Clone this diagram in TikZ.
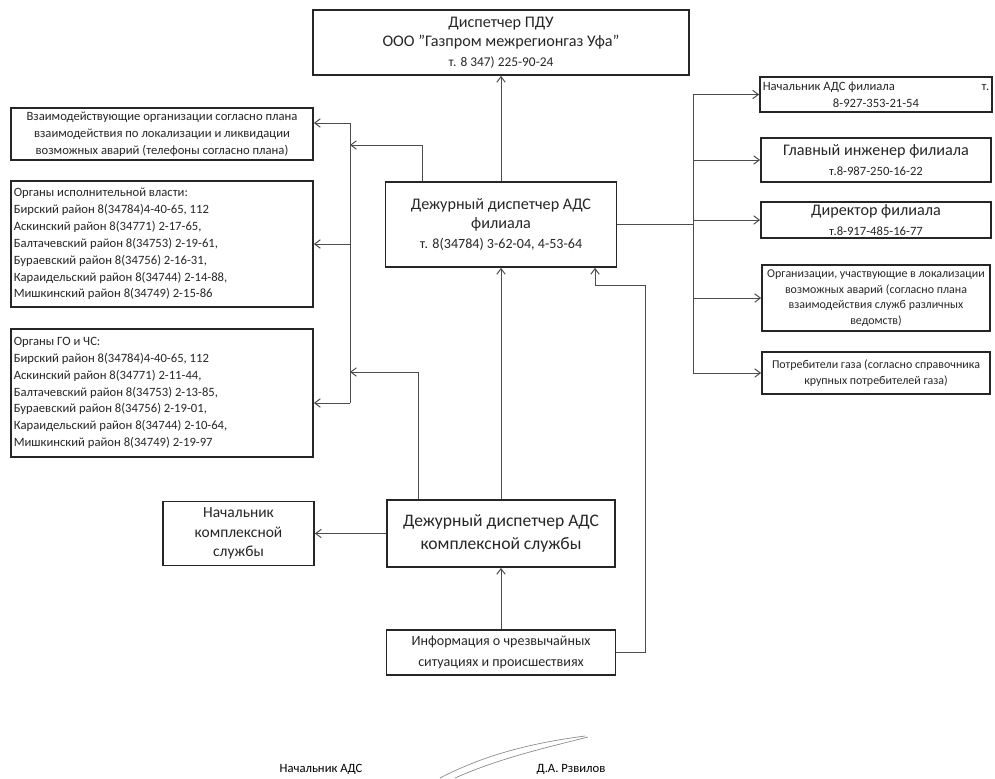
\documentclass[tikz,border=0pt]{standalone}
\usepackage{fontspec}
\setmainfont{Carlito}
\usetikzlibrary{arrows.meta}
\begin{document}
\begin{tikzpicture}[x=0.025cm, y=-0.025cm,
    unit/.style ={rectangle, draw=black!85, line width=1.2pt, align=flush center, inner sep=2pt, text=black!85},
    wire/.style ={draw=black!70, line width=0.7pt},
    link/.style ={wire, -{Straight Barb[length=4pt,width=6pt]}},
    small/.style ={font=\fontsize{8.5}{11}\selectfont},
    mid/.style ={font=\fontsize{9}{12}\selectfont},
    big/.style ={font=\fontsize{11.5}{14}\selectfont}]
   \useasboundingbox (0,0) rectangle (995,778);

   \node[unit, big, minimum width=9.4cm, minimum height=1.625cm] (A) at (501,42.5)
      {Диспетчер ПДУ\\ООО "Газпром межрегионгаз Уфа"\\{\fontsize{9.5}{12}\selectfont т. 8 347) 225-90-24}};
   \node[unit, mid, minimum width=7.55cm, minimum height=1.3cm] (B) at (162,134)
      {Взаимодействующие организации согласно плана\\взаимодействия по локализации и ликвидации\\возможных аварий (телефоны согласно плана)};
   \node[unit, mid, text width=7.41cm, minimum height=3.15cm, align=flush left] (C) at (162,244)
      {Органы исполнительной власти:\\Бирский район 8(34784)4-40-65, 112\\Аскинский район 8(34771) 2-17-65,\\Балтачевский район 8(34753) 2-19-61,\\Бураевский район 8(34756) 2-16-31,\\Караидельский район 8(34744) 2-14-88,\\Мишкинский район 8(34749) 2-15-86};
   \node[unit, mid, text width=7.41cm, minimum height=3.2cm, align=flush left] (D) at (162,393)
      {Органы ГО и ЧС:\\Бирский район 8(34784)4-40-65, 112\\Аскинский район 8(34771) 2-11-44,\\Балтачевский район 8(34753) 2-13-85,\\Бураевский район 8(34756) 2-19-01,\\Караидельский район 8(34744) 2-10-64,\\Мишкинский район 8(34749) 2-19-97};
   \node[unit, big, minimum width=5.775cm, minimum height=2.125cm] (E) at (501,224.5)
      {Дежурный диспетчер АДС\\филиала\\{\fontsize{10}{14}\selectfont т. 8(34784) 3-62-04, 4-53-64}};
   \node[unit, font=\fontsize{11}{14}\selectfont, minimum width=3.775cm, minimum height=1.6cm] (F) at (238.5,533.5)
      {Начальник\\комплексной\\службы};
   \node[unit, font=\fontsize{12.5}{17}\selectfont, minimum width=5.7cm, minimum height=1.675cm] (G) at (501,533.5)
      {Дежурный диспетчер АДС\\комплексной службы};
   \node[unit, font=\fontsize{10}{14.5}\selectfont, minimum width=5.725cm, minimum height=1.125cm] (H) at (501,652.5)
      {Информация о чрезвычайных\\ситуациях и происшествиях};

   \node[unit, mid, text width=5.66cm, minimum height=0.875cm] (I) at (876,94.5)
      {Начальник АДС филиала\hspace{0pt plus 1filll}т.\\8-927-353-21-54};
   \node[unit, big, minimum width=5.75cm, minimum height=1.1cm] (J) at (876,160)
      {Главный инженер филиала\\{\fontsize{9}{12}\selectfont т.8-987-250-16-22}};
   \node[unit, big, minimum width=5.75cm, minimum height=0.85cm] (K) at (876,220)
      {Директор филиала\\{\fontsize{9}{12}\selectfont т.8-917-485-16-77}};
   \node[unit, small, minimum width=5.7cm, minimum height=1.65cm] (L) at (876,298)
      {Организации, участвующие в локализации\\возможных аварий (согласно плана\\взаимодействия служб различных\\ведомств)};
   \node[unit, small, minimum width=5.7cm, minimum height=1.05cm] (M) at (876,373)
      {Потребители газа (согласно справочника\\крупных потребителей газа)};

   \coordinate (P) at (350,123);
   \coordinate (Q) at (350,403);
   \coordinate (P1) at (350,145);
   \coordinate (P2) at (350,372);
   \coordinate (T) at (645,285);
   \coordinate (R) at (693,94.5);
   \coordinate (S) at (693,373);

   \draw[link] (E.north) -- (A.south);
   \draw[link] ([xshift=-1.95cm]E.north) |- (P1);
   \draw[wire] (P) -- (Q);
   \draw[link] (P) -- (P -| B.east);
   \draw[link] (C.east -| P) -- (C.east);
   \draw[link] (Q) -- (Q -| D.east);
   \draw[link] ([xshift=-2.05cm]G.north) |- (P2);
   \draw[link] (G.west) -- (F.east);
   \draw[link] (G.north) -- (E.south);
   \draw[link] (H.north) -- (G.south);
   \draw[link] (H.east) -| (T) -| ([xshift=2.35cm]E.south);

   \draw[wire] (E.east) -- (E.east -| R);
   \draw[wire] (R) -- (S);
   \draw[link] (R) -- (I.west);
   \draw[link] (J.west -| R) -- (J.west);
   \draw[link] (K.west -| R) -- (K.west);
   \draw[link] (L.west -| R) -- (L.west);
   \draw[link] (S) -- (M.west);

   \node[mid] (U) at (321,769) {Начальник АДС};
   \node[mid] (V) at (571,769) {Д.А. Рзвилов};
   \draw[black!45, line width=0.5pt] (440,778) .. controls (490,752) and (540,742) .. (585,736);
   \draw[black!45, line width=0.5pt] (455,778) .. controls (500,758) and (545,748) .. (588,737);

 \end{tikzpicture}
\end{document}
